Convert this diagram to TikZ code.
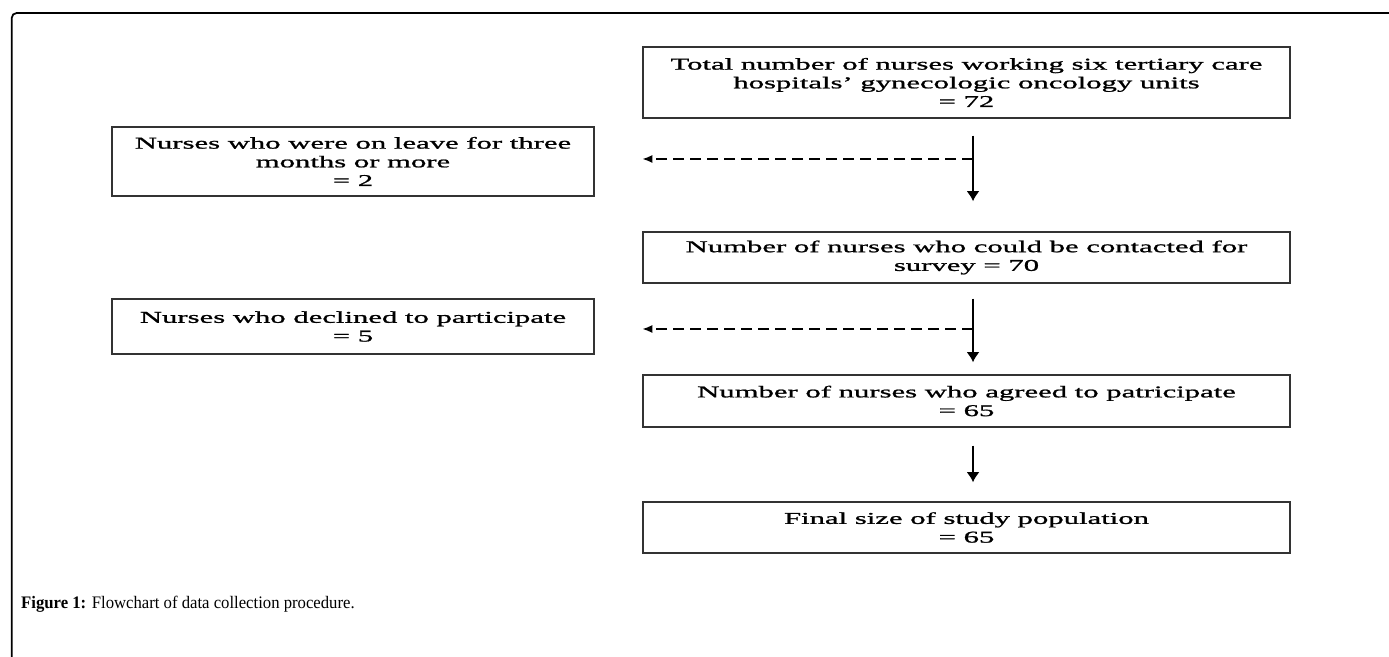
\documentclass[tikz,border=0pt]{standalone}
\usepackage{fontspec}
\setmainfont{Liberation Serif}
\newfontfamily\flowfont{Liberation Serif}[Ligatures=TeX,FakeStretch=1.86,FakeBold=1.2]
\newfontfamily\capfont{Liberation Serif}[Ligatures=TeX,FakeStretch=0.95]
\usetikzlibrary{arrows.meta}

\begin{document}
\begin{tikzpicture}[
  >={Latex[length=2mm,width=2.6mm]},
  stage/.style={draw=black!80,line width=0.85pt,minimum width=12.94cm,align=center,inner sep=0pt,
    font=\flowfont\fontsize{9.39pt}{10.64pt}\selectfont},
  excl/.style={stage,minimum width=9.64cm},
  flow/.style={->,line width=1.1pt},
  side/.style={-{Latex[length=2mm,width=1.6mm]},line width=1pt,dash pattern=on 0.22cm off 0.12cm}
]
\useasboundingbox (0,0) rectangle (27.78,13.14);
\draw[line width=1pt,rounded corners=0.1cm] (0.234,0) -- (0.234,12.88) -- (28,12.88);

\node[stage,minimum height=1.42cm] (total) at (19.33,11.49) {Total number of nurses working six tertiary care\\hospitals' gynecologic oncology units\\= 72};
\node[stage,minimum height=1.02cm] (contact) at (19.33,7.99) {Number of nurses who could be contacted for\\survey = 70};
\node[stage,minimum height=1.04cm] (agreed) at (19.33,5.12) {Number of nurses who agreed to patricipate\\= 65};
\node[stage,minimum height=1.02cm] (final) at (19.33,2.59) {Final size of study population\\= 65};

\node[excl,minimum height=1.38cm] (leave) at (7.06,9.91) {Nurses who were on leave for three\\months or more\\= 2};
\node[excl,minimum height=1.10cm] (declined) at (7.06,6.61) {Nurses who declined to participate\\= 5};

\draw[flow,shorten <=0.34cm,shorten >=0.60cm] ([xshift=0.13cm]total.south) -- ([xshift=0.13cm]contact.north);
\draw[flow,shorten <=0.30cm,shorten >=0.24cm] ([xshift=0.13cm]contact.south) -- ([xshift=0.13cm]agreed.north);
\draw[flow,shorten <=0.36cm,shorten >=0.38cm] ([xshift=0.13cm]agreed.south) -- ([xshift=0.13cm]final.north);

\coordinate (fork1) at (19.46,9.96);
\coordinate (fork2) at (19.46,6.56);
\draw[side] (fork1) -- (fork1 -| total.west);
\draw[side] (fork2) -- (fork2 -| total.west);

\node[anchor=base west,font=\capfont\fontsize{10pt}{12pt}\selectfont] (caption) at (0.30,0.96) {\textbf{Figure 1:} Flowchart of data collection procedure.};
\end{tikzpicture}
\end{document}
